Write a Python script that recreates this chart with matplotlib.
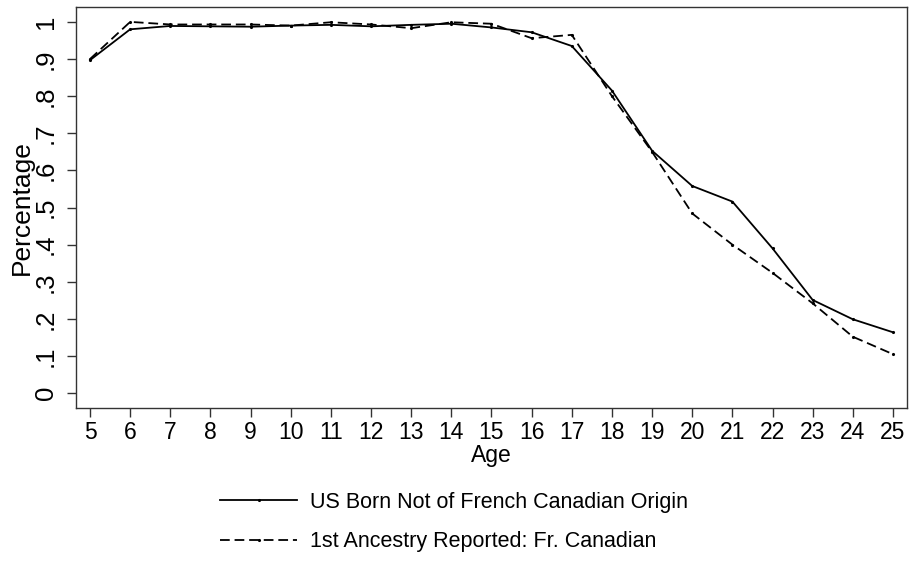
import matplotlib
matplotlib.use('Agg')
from matplotlib import pyplot as plt

plt.rcParams['font.family'] = ['Liberation Sans', 'DejaVu Sans']
plt.rcParams['lines.scale_dashes'] = False

ages = list(range(5, 26))
us_born = [0.897, 0.980, 0.989, 0.988, 0.987, 0.990, 0.992, 0.988, 0.992, 0.995, 0.985,
           0.972, 0.935, 0.815, 0.653, 0.558, 0.516, 0.390, 0.251, 0.199, 0.164]
fr_canadian = [0.900, 1.000, 0.993, 0.993, 0.993, 0.990, 0.999, 0.993, 0.983, 0.999, 0.995,
               0.956, 0.965, 0.800, 0.650, 0.484, 0.400, 0.324, 0.242, 0.152, 0.105]
yticks = [0, .1, .2, .3, .4, .5, .6, .7, .8, .9, 1]
ylabels = ['0', '.1', '.2', '.3', '.4', '.5', '.6', '.7', '.8', '.9', '1']

fig = plt.figure(figsize=(9.09, 5.62), dpi=100)
ax = fig.add_axes([0.0836, 0.274, 0.9142, 0.7135])

ax.plot(ages, us_born, color='black', lw=1.3, marker='.', ms=2.5,
        label='US Born Not of French Canadian Origin')
ax.plot(ages, fr_canadian, color='black', lw=1.3, marker='.', ms=2.5,
        dashes=(7, 3.5), label='1st Ancestry Reported: Fr. Canadian')

ax.set_xlim(4.65, 25.35)
ax.set_ylim(-0.04, 1.04)
ax.set_xticks(ages)
ax.set_yticks(yticks)
ax.set_yticklabels(ylabels, rotation=90, va='center')
ax.tick_params(length=6.5, width=1, color='#333333')
ax.tick_params(axis='x', labelsize=16.5, pad=3)
ax.tick_params(axis='y', labelsize=18.5, pad=6.5)
for s in ax.spines.values():
    s.set_color('#333333')
    s.set_linewidth(1)

ax.set_xlabel('Age', fontsize=16.5, labelpad=0)
ax.set_ylabel('Percentage', fontsize=19, labelpad=0)

fig.legend(loc='upper center', bbox_to_anchor=(0.4995, 0.125), ncol=1, frameon=False,
           fontsize=15.5, handlelength=3.6, handletextpad=0.6, labelspacing=0.85,
           borderaxespad=0, borderpad=0)

plt.savefig('out.png', dpi=100)
